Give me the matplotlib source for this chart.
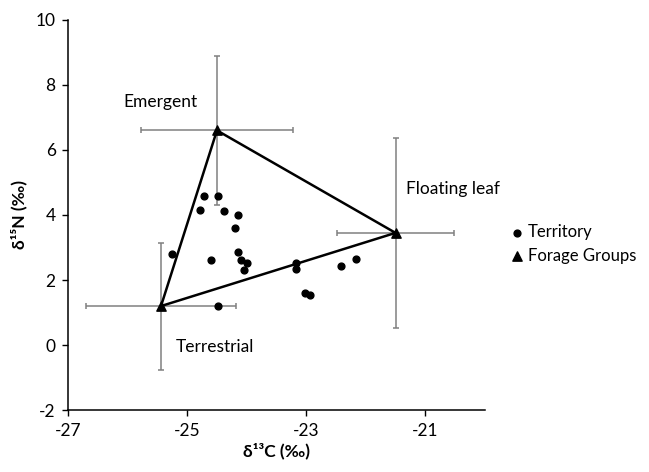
import matplotlib
matplotlib.use("Agg")
import matplotlib.pyplot as plt

plt.rcParams["font.family"] = ["Lato", "DejaVu Sans"]
plt.rcParams["axes.unicode_minus"] = False

# territory samples (d13C, d15N)
terr_c = [-24.71, -24.49, -24.78, -24.38, -24.14, -24.20, -25.26, -24.60, -24.14, -24.09,
          -23.99, -24.04, -23.17, -23.17, -22.41, -22.17, -23.02, -22.93, -24.49]
terr_n = [4.59, 4.59, 4.15, 4.13, 4.01, 3.59, 2.80, 2.62, 2.87, 2.63,
          2.52, 2.32, 2.52, 2.33, 2.43, 2.64, 1.59, 1.54, 1.19]

# forage groups: mean and error
groups = ["Emergent", "Floating leaf", "Terrestrial"]
group_c = [-24.5, -21.5, -25.44]
group_n = [6.6, 3.45, 1.2]
group_c_err = [1.27, 0.98, 1.26]
group_n_err = [2.3, 2.93, 1.95]

fs = 12.5

fig = plt.figure(figsize=(6.49, 4.72), dpi=100)
ax = fig.add_axes([0.105, 0.131, 0.642, 0.827])

ax.errorbar(group_c, group_n, xerr=group_c_err, yerr=group_n_err, fmt="none",
            ecolor="#808080", elinewidth=1.1, capsize=2.5, capthick=1.1, zorder=1)

hull_c = group_c + group_c[:1]
hull_n = group_n + group_n[:1]
ax.plot(hull_c, hull_n, color="black", lw=1.8, zorder=2)

ax.scatter(terr_c, terr_n, s=24, color="black", marker="o", zorder=3, label="Territory")
ax.scatter(group_c, group_n, s=45, color="black", marker="^", zorder=4, label="Forage Groups")

label_pos = {"Emergent": (-26.08, 7.48), "Floating leaf": (-21.33, 4.8), "Terrestrial": (-25.19, -0.05)}
for g in groups:
    lx, ly = label_pos[g]
    ax.text(lx, ly, g, ha="left", va="center", fontsize=fs)

ax.set_xlim(-27, -20)
ax.set_ylim(-2, 10)
ax.set_xticks([-27, -25, -23, -21])
ax.set_yticks(range(-2, 11, 2))
ax.tick_params(labelsize=fs, direction="out", length=4, width=1, pad=5)
for s in ["top", "right"]:
    ax.spines[s].set_visible(False)
for s in ["left", "bottom"]:
    ax.spines[s].set_linewidth(1.1)

ax.set_xlabel("δ¹³C (‰)", fontsize=fs, fontweight="bold", labelpad=3)
ax.set_ylabel("δ¹⁵N (‰)", fontsize=fs, fontweight="bold", labelpad=6)

fig.legend(loc="center left", bbox_to_anchor=(0.758, 0.483), frameon=False, fontsize=12,
           handletextpad=0.05, handlelength=1.2, labelspacing=0.45)

fig.savefig("out.png", dpi=100)
